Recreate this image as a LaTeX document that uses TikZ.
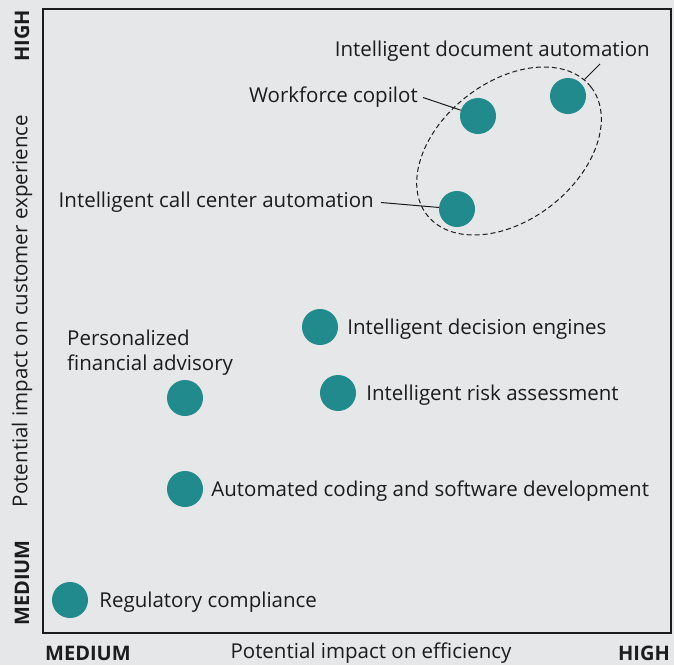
\documentclass[tikz,border=0pt]{standalone}
\usepackage{fontspec}
\setmainfont{Open Sans}
\usetikzlibrary{positioning}
\definecolor{dotteal}{HTML}{218A8C}
\definecolor{bggray}{HTML}{E6E7E9}
\definecolor{inkgray}{HTML}{1C1C1C}
\newcommand{\usecasept}[3][]{\node[circle,fill=dotteal,minimum size=36pt,inner sep=0pt,#1] at (#2) (#3) {}}

\begin{document}
\begin{tikzpicture}[x=1pt,y=-1pt,
    lbl/.style={text=inkgray,font=\fontsize{20.5}{25}\selectfont,inner sep=3pt,yshift=-2.5pt},
    axlbl/.style={text=inkgray,font=\fontsize{20}{22}\selectfont\bfseries,inner sep=0pt},
    axtitle/.style={text=inkgray,font=\fontsize{20.5}{22}\selectfont,inner sep=0pt},
    leader/.style={draw=inkgray,line width=1pt}]
  \fill[bggray] (0,0) rectangle (674,665);
  \useasboundingbox (0,0) rectangle (674,665);
  \draw[inkgray,line width=1.4pt] (43,9) rectangle (671,633);

  % axes
  \node[axlbl,rotate=90] (yhigh) at (22,36)  {HIGH};
  \node[axlbl,rotate=90] (ymed)  at (22,583) {MEDIUM};
  \node[axtitle,rotate=90] (ytitle) at (22,311) {Potential impact on customer experience};
  \node[axlbl,anchor=west] (xmed)  at (45,653)  {MEDIUM};
  \node[axtitle] (xtitle) at (371,653) {Potential impact on efficiency};
  \node[axlbl,anchor=east] (xhigh) at (670,653) {HIGH};

  % use cases
  \usecasept{70,600}{reg};
  \usecasept{185,489}{code};
  \usecasept{185,398}{pfa};
  \usecasept{338,393}{risk};
  \usecasept{320,327}{dec};
  \usecasept{457,209}{call};
  \usecasept{478,116}{wfc};
  \usecasept{568,96}{doc};

  \node[lbl,right=8pt of reg]  (regl)  {Regulatory compliance};
  \node[lbl,right=5pt of code] (codel) {Automated coding and software development};
  \node[lbl,right=7pt of risk] (riskl) {Intelligent risk assessment};
  \node[lbl,right=6pt of dec]  (decl)  {Intelligent decision engines};
  \node[lbl,anchor=west,align=left] (pfal) at (64,350) {Personalized\\financial advisory};
  \node[lbl,anchor=east] (calll) at (377,200) {Intelligent call center automation};
  \node[lbl,anchor=east] (wfcl)  at (421,95)  {Workforce copilot};
  \node[lbl,anchor=east] (docl)  at (653,49)  {Intelligent document automation};

  % cluster
  \draw[inkgray,dash pattern=on 5pt off 3pt,line width=1pt,rotate around={38:(509,151)}]
    (509,151) ellipse [x radius=104pt,y radius=69pt];

  \draw[leader] ([xshift=4pt]calll.east) -- (call);
  \draw[leader] ([xshift=2pt]wfcl.east) -- (wfc);
  \draw[leader,shorten >=5pt] ([xshift=-53pt,yshift=1pt]docl.south east) -- (doc);
\end{tikzpicture}
\end{document}
